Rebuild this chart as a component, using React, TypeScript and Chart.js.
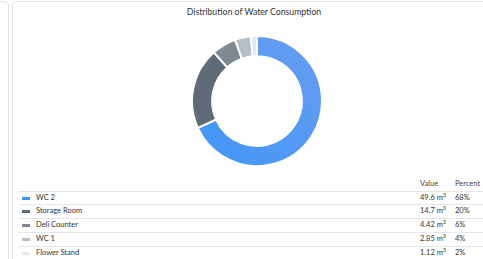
import React, { useEffect, useRef } from "react";
import { Chart, registerables } from "chart.js";

Chart.register(...registerables);

const labels = ["WC 2", "Storage Room", "Deli Counter", "WC 1", "Flower Stand"];
const values = [49.6, 14.7, 4.42, 2.85, 1.12];
const valueLabels = ["49.6", "14.7", "4.42", "2.85", "1.12"];
const percents = ["68%", "20%", "6%", "4%", "2%"];
const colors = ["#4d9bf5", "#5f6b78", "#7e8993", "#b4bfc7", "#e3eaef"];
const title = "Distribution of Water Consumption";

const FONT = "Lato, 'Open Sans', sans-serif";

export default function App() {
  const ref = useRef<HTMLCanvasElement | null>(null);
  useEffect(() => {
    document.body.style.margin = "0";
    const canvas = ref.current;
    if (!canvas) return;
    const chart = new Chart(canvas, {
      type: "doughnut",
      data: {
        labels,
        datasets: [
          {
            data: values,
            backgroundColor: (c: any) => {
              const i = c.dataIndex;
              if (i === 0) {
                const ch = c.chart;
                const area = ch.chartArea;
                if (!area) return colors[0];
                const g = ch.ctx.createLinearGradient(area.left, area.bottom, area.right, area.top);
                g.addColorStop(0, "#3f96f6");
                g.addColorStop(1, "#6a9df1");
                return g;
              }
              return colors[i];
            },
            borderColor: "#ffffff",
            borderWidth: 2,
          },
        ],
      },
      options: {
        responsive: false,
        animation: false,
        cutout: "69%",
        plugins: { legend: { display: false }, tooltip: { enabled: false } },
        layout: { padding: 0 },
      },
    });
    return () => chart.destroy();
  }, []);

  const rowTop = [191, 204, 218, 232, 246];
  return (
    <div style={{ position: "relative", width: 483, height: 259, overflow: "hidden", background: "#fff", fontFamily: FONT }}>
      <div style={{ position: "absolute", left: -20, top: 1, width: 27, height: 300, border: "1px solid #e6e6e6", borderRadius: 4 }} />
      <div style={{ position: "absolute", left: 12, top: 1, width: 500, height: 300, border: "1px solid #e6e6e6", borderRadius: 4 }} />
      <div style={{ position: "absolute", left: 12, width: 484, top: 6, textAlign: "center", fontSize: 8.7, color: "#333", lineHeight: "12px" }}>
        {title}
      </div>
      <canvas ref={ref} width={132} height={132} style={{ position: "absolute", left: 191, top: 35, width: 132, height: 132 }} />
      <div style={{ position: "absolute", left: 420, top: 179, fontSize: 7.5, color: "#444", lineHeight: "10px" }}>Value</div>
      <div style={{ position: "absolute", left: 455, top: 179, fontSize: 7.5, color: "#444", lineHeight: "10px" }}>Percent</div>
      {labels.map((l, i) => (
        <React.Fragment key={l}>
          <div style={{ position: "absolute", left: 18, width: 470, top: rowTop[i], height: 0, borderTop: "1px solid #e6e6e6" }} />
          <div style={{ position: "absolute", left: 22, top: rowTop[i] + 6, width: 8, height: 3, background: i === 0 ? "#3f96f6" : colors[i] }} />
          <div style={{ position: "absolute", left: 36, top: rowTop[i] + 2, fontSize: 7.5, color: "#333", lineHeight: "10px", whiteSpace: "nowrap" }}>{l}</div>
          <div style={{ position: "absolute", left: 420, top: rowTop[i] + 2, fontSize: 7.5, color: "#333", lineHeight: "10px", whiteSpace: "nowrap" }}>
            {valueLabels[i]} m<sup style={{ fontSize: 5, lineHeight: 0 }}>3</sup>
          </div>
          <div style={{ position: "absolute", left: 455, top: rowTop[i] + 2, fontSize: 7.5, color: "#333", lineHeight: "10px" }}>{percents[i]}</div>
        </React.Fragment>
      ))}
    </div>
  );
}
